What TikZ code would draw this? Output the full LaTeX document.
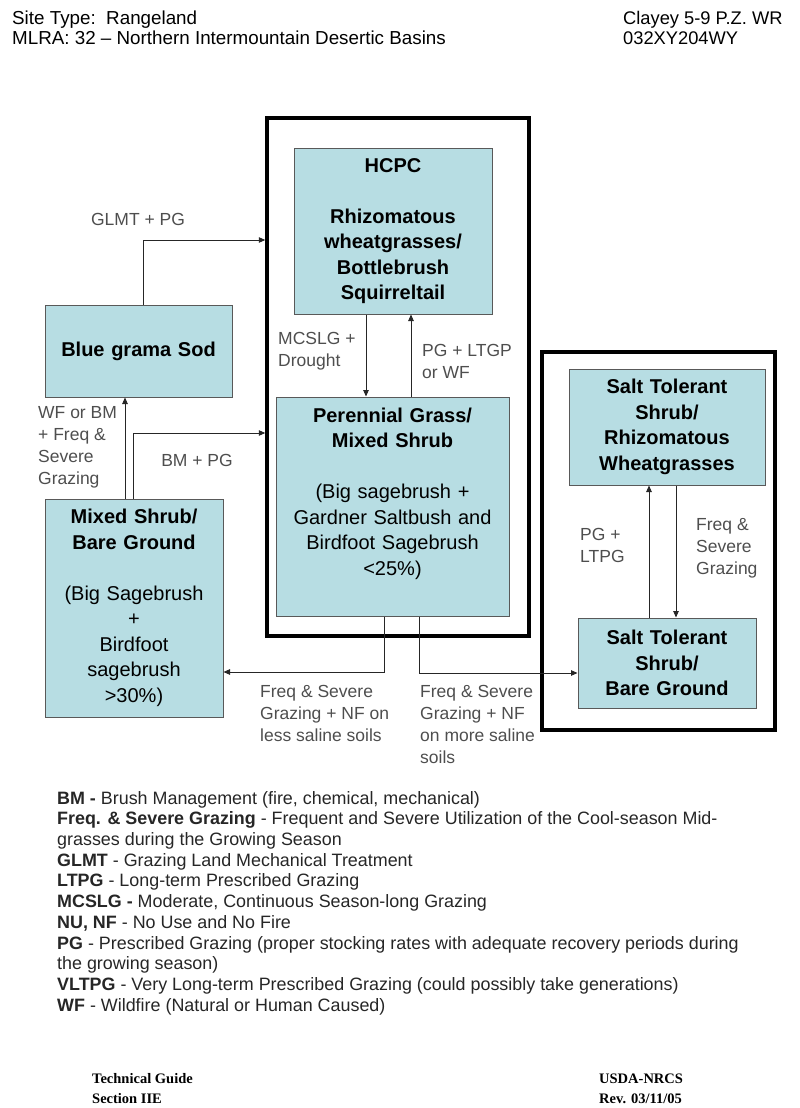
\documentclass[tikz,border=0pt]{standalone}
\usepackage{fontspec}
\setmainfont{Liberation Sans}
\newfontfamily\footfont{Liberation Serif}
\usepackage{tikz}
\usetikzlibrary{arrows.meta}
\definecolor{boxteal}{RGB}{183,221,227}
\definecolor{labelgray}{RGB}{78,78,78}

\begin{document}
\begin{tikzpicture}[x=1pt, y=-1pt,
			statenode/.style={rectangle, draw=black!65, fill=boxteal, line width=1pt, inner sep=0pt, align=center, font=\fontsize{20}{25.5}\selectfont\bfseries},
			framenode/.style={rectangle, draw=black, line width=3.5pt, inner sep=0pt},
			transnode/.style={align=left, anchor=west, inner sep=0pt, text=labelgray, font=\fontsize{17.5}{22}\selectfont},
			headnode/.style={align=left, anchor=west, inner sep=0pt, font=\fontsize{18.8}{20}\selectfont},
			footnode/.style={align=left, anchor=west, inner sep=0pt, font=\footfont\fontsize{14.5}{20}\selectfont\bfseries},
			arr/.style={-{Triangle[length=6.5pt,width=5.5pt]}, line width=0.9pt, draw=black!85},
		]
		
			\useasboundingbox (0,0) rectangle (800,1108);
		
			%Header and footer
			\node[headnode]	(sitetype)	at (12,28)	{Site Type:\ \ Rangeland\\MLRA: 32 – Northern Intermountain Desertic Basins};
			\node[headnode, font=\fontsize{18.3}{20}\selectfont]	(siteid)	at (623,28)	{Clayey 5-9 P.Z. WR\\032XY204WY};
			\node[footnode]	(guide)	at (92,1089)	{Technical Guide\\Section IIE};
			\node[footnode]	(rev)	at (599,1089)	{USDA-NRCS\\ Rev. 03/11/05};
		
			%Frames
			\node[framenode, minimum width=262pt, minimum height=518pt]	(refframe)	at (398,377)	{};
			\node[framenode, minimum width=233pt, minimum height=378pt]	(saltframe)	at (658.5,541)	{};
		
			%Nodes
			\node[statenode, minimum width=198pt, minimum height=166pt, text width=190pt]	(hcpc)	at (393,231)	{HCPC\\[25.5pt]Rhizomatous\\wheatgrasses/\\Bottlebrush\\Squirreltail};
			\node[statenode, minimum width=233pt, minimum height=219pt, text width=226pt]	(pgms)	at (392.5,506.5)	{Perennial Grass/\\Mixed Shrub\\[25.5pt]\mdseries(Big sagebrush +\\Gardner Saltbush and\\Birdfoot Sagebrush\\<25\%)\\[5pt]\mbox{}};
			\node[statenode, minimum width=187pt, minimum height=92pt, text width=180pt]	(bgs)	at (138.5,351)	{Blue grama Sod};
			\node[statenode, minimum width=178pt, minimum height=218pt, text width=172pt]	(msbg)	at (134,608)	{Mixed Shrub/\\Bare Ground\\[25.5pt]\mdseries(Big Sagebrush\\+\\Birdfoot\\sagebrush\\>30\%)};
			\node[statenode, minimum width=196pt, minimum height=116pt, text width=190pt]	(strw)	at (667,427)	{Salt Tolerant\\Shrub/\\Rhizomatous\\Wheatgrasses};
			\node[statenode, minimum width=178pt, minimum height=90pt, text width=172pt]	(stbg)	at (667,663)	{Salt Tolerant\\Shrub/\\Bare Ground};
		
			%Labels
			\node[transnode, anchor=center]	(glmtlabel)	at (138,219)	{GLMT + PG};
			\node[transnode]	(wflabel)	at (38,447)	{WF or BM\\+ Freq \&\\Severe\\Grazing};
			\node[transnode, anchor=center]	(bmlabel)	at (197,460)	{BM + PG};
			\node[transnode]	(mcslglabel)	at (278,351)	{MCSLG +\\Drought};
			\node[transnode]	(pglabel)	at (422,361)	{PG + LTGP\\or WF};
			\node[transnode]	(ltpglabel)	at (580,545)	{PG +\\LTPG};
			\node[transnode]	(freqlabel)	at (696,548)	{Freq \&\\Severe\\Grazing};
			\node[transnode]	(lesslabel)	at (260,713)	{Freq \& Severe\\Grazing + NF on\\less saline soils};
			\node[transnode]	(morelabel)	at (420,724)	{Freq \& Severe\\Grazing + NF\\on more saline\\soils};
		
			%Legend
			\node[align=left, anchor=west, inner sep=0pt, text=black!85, font=\fontsize{17.9}{20.7}\selectfont]	(legend)	at (57,903)	{%
				\textbf{BM -} Brush Management (fire, chemical, mechanical)\\
				\textbf{Freq. \& Severe Grazing} - Frequent and Severe Utilization of the Cool-season Mid-\\
				grasses during the Growing Season\\
				\textbf{GLMT} - Grazing Land Mechanical Treatment\\
				\textbf{LTPG} - Long-term Prescribed Grazing\\
				\textbf{MCSLG -} Moderate, Continuous Season-long Grazing\\
				\textbf{NU, NF} - No Use and No Fire\\
				\textbf{PG} - Prescribed Grazing (proper stocking rates with adequate recovery periods during\\
				the growing season)\\
				\textbf{VLTPG} - Very Long-term Prescribed Grazing (could possibly take generations)\\
				\textbf{WF} - Wildfire (Natural or Human Caused)};
		
			%Turning points
			\coordinate	(glmtturn)	at (143,240);
			\coordinate	(wfbmx)	at (125,0);
			\coordinate	(bmturn)	at (133,433);
			\coordinate	(mcslgx)	at (366,0);
			\coordinate	(pgx)	at (411,0);
			\coordinate	(lessturn)	at (384,672);
			\coordinate	(moreturn)	at (419,673);
			\coordinate	(ltpgx)	at (649,0);
			\coordinate	(freqx)	at (676,0);
		
			%Lines
			\draw[arr]	(bgs.north -| glmtturn) |- (refframe.west |- glmtturn);
			\draw[arr]	(msbg.north -| wfbmx) -- (bgs.south -| wfbmx);
			\draw[arr]	(msbg.north -| bmturn) |- (refframe.west |- bmturn);
			\draw[arr]	(hcpc.south -| mcslgx) -- (pgms.north -| mcslgx);
			\draw[arr]	(pgms.north -| pgx) -- (hcpc.south -| pgx);
			\draw[arr]	(pgms.south -| lessturn) |- (msbg.east |- lessturn);
			\draw[arr]	(pgms.south -| moreturn) |- (stbg.west |- moreturn);
			\draw[arr]	(stbg.north -| ltpgx) -- (strw.south -| ltpgx);
			\draw[arr]	(strw.south -| freqx) -- (stbg.north -| freqx);
		
		\end{tikzpicture}
\end{document}
